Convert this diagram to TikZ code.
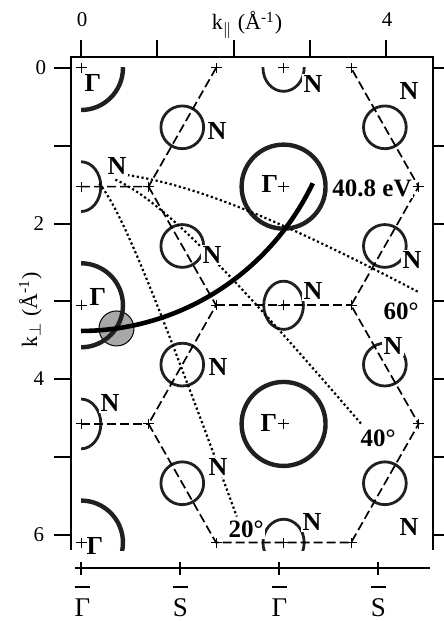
\documentclass[tikz,border=0pt]{standalone}
\usepackage{fontspec}
\setmainfont{Liberation Serif}
\definecolor{bzInk}{RGB}{0,0,0}
\definecolor{bzContour}{RGB}{32,32,32}
\definecolor{bzSpot}{RGB}{168,168,168}

\begin{document}
\begin{tikzpicture}[x=0.5pt,y=0.5pt,inner sep=0pt,outer sep=0pt,
  axisline/.style={line width=0.9pt,draw=bzInk},
  zoneedge/.style={line width=0.85pt,dash pattern=on 4.5pt off 2pt},
  angleline/.style={line width=1.1pt,dash pattern=on 1.1pt off 1.3pt},
  gammacut/.style={line width=2.2pt,draw=bzContour},
  ncut/.style={line width=1.4pt,draw=bzContour},
  crossmark/.style={line width=0.5pt},
  symlabel/.style={fill=white,inner sep=0.6pt,font=\bfseries\fontsize{13}{15}\selectfont},
  numlabel/.style={fill=white,inner sep=0.6pt,font=\bfseries\fontsize{12.5}{15}\selectfont},
  gammalabel/.style={font=\bfseries\fontsize{13}{15}\selectfont},
  ticklabel/.style={font=\fontsize{10.5}{12}\selectfont},
  axislabel/.style={font=\fontsize{11}{12}\selectfont},
  pointlabel/.style={font=\fontsize{13.5}{15}\selectfont}]
\useasboundingbox (0,0) rectangle (444,621);

% frame, top and side axes
\draw[axisline] (71,71) -- (71,564) -- (433,564) -- (433,71);
\foreach \xt in {81,157,234,310,386} \draw[axisline] (\xt,564) -- (\xt,581);
\foreach \yt in {553,475,397,320,242,164,86} {
  \draw[axisline] (54,\yt) -- (71,\yt);
  \draw[axisline] (433,\yt) -- (444,\yt);
}
\node[ticklabel,anchor=base] (top0) at (82,594) {0};
\node[ticklabel,anchor=base] (top4) at (387,594) {4};
\node[axislabel,anchor=base] (kpar) at (247,591) {k$_{\parallel}$ (Å\textsuperscript{-1})};
\node[ticklabel,anchor=east] (left0) at (46,553) {0};
\node[ticklabel,anchor=east] (left2) at (44,397) {2};
\node[ticklabel,anchor=east] (left4) at (44,242) {4};
\node[ticklabel,anchor=east] (left6) at (44,86) {6};
\node[axislabel,rotate=90,anchor=base] (kperp) at (37,311) {k$_{\perp}$ (Å\textsuperscript{-1})};

% bottom axis with surface points
\draw[axisline] (75,53) -- (430,53);
\foreach \xt in {81,180,279,378} \draw[axisline] (\xt,46) -- (\xt,59);
\node[pointlabel,anchor=base] (sg1) at (82.5,4) {Γ};
\node[pointlabel,anchor=base] (ss1) at (180.5,4) {S};
\node[pointlabel,anchor=base] (sg2) at (279.5,4) {Γ};
\node[pointlabel,anchor=base] (ss2) at (378.5,4) {S};
\foreach \lb in {sg1,ss1,sg2,ss2}
  \draw[line width=1pt] ([yshift=6pt]\lb.north west) -- ([yshift=6pt]\lb.north east);

% k-space, in inverse angstrom
\begin{scope}[shift={(81,553)},x=38.15pt,y=-38.9pt]
\coordinate (G1) at (0,0);
\coordinate (G2) at (0,3.05);
\coordinate (G3) at (0,6.1);
\coordinate (G4) at (2.655,1.525);
\coordinate (G5) at (2.655,4.575);
\coordinate (N3) at (2.655,0);
\coordinate (N4) at (2.655,3.05);
\coordinate (N5) at (2.655,6.1);
\coordinate (v1) at (0,1.525);
\coordinate (v2) at (0.885,1.525);
\coordinate (v3) at (1.77,0);
\coordinate (v4) at (1.77,3.05);
\coordinate (v5) at (0.885,4.575);
\coordinate (v6) at (0,4.575);
\coordinate (v7) at (1.77,6.1);
\coordinate (v8) at (3.54,6.1);
\coordinate (v9) at (4.425,4.575);
\coordinate (v10) at (3.54,3.05);
\coordinate (v11) at (4.425,1.525);
\coordinate (v12) at (3.54,0);

\node[circle,draw,fill=bzSpot,line width=0.5pt,minimum size=17.5pt] (spot) at (0.465,3.348) {};

\begin{scope}
\clip (0,0) rectangle (4.6,6.2);
\foreach \g in {G1,G2,G3,G4,G5}
  \draw[gammacut] (\g) circle[x radius=0.55,y radius=0.54];
\draw[ncut] (v1) ellipse[x radius=0.26,y radius=0.32];
\draw[ncut] (v6) ellipse[x radius=0.26,y radius=0.32];
\draw[ncut] (N3) ellipse[x radius=0.27,y radius=0.30];
\draw[ncut] (N4) ellipse[x radius=0.26,y radius=0.31];
\draw[ncut] (N5) ellipse[x radius=0.27,y radius=0.30];
\foreach \xm in {1.3275,3.9825}
  \foreach \ym in {0.7625,2.2875,3.8125,5.3375}
    \draw[ncut] (\xm,\ym) circle[x radius=0.28,y radius=0.275];
\end{scope}

% zone boundaries
\draw[zoneedge] (v1) -- (v2) -- (v3);
\draw[zoneedge] (v2) -- (v4) -- (v5) -- (v7) -- (v8) -- (v9) -- (v10) -- (v11) -- (v12);
\draw[zoneedge] (v4) -- (v10);
\draw[zoneedge] (v6) -- (v5);

% constant emission angle
\draw[angleline] plot[domain=0.7:5.1,samples=40,smooth,variable=\t] ({\t*sin(60)},{sqrt((\t*cos(60))^2+1.77)});
\draw[angleline] plot[domain=0.7:5.73,samples=40,smooth,variable=\t] ({\t*sin(40)},{sqrt((\t*cos(40))^2+1.77)});
\draw[angleline] plot[domain=0.7:5.97,samples=40,smooth,variable=\t] ({\t*sin(20)},{sqrt((\t*cos(20))^2+1.77)});

% constant photon energy
\draw[line width=2.3pt] plot[domain=26:90,samples=40,smooth] ({3.38*cos(\x)},{3.38*sin(\x)});

\foreach \p in {G1,G2,G3,G4,G5,N3,N4,N5,v1,v2,v3,v4,v5,v6,v7,v8,v9,v10,v11,v12}
  \draw[crossmark] (\p) ++(-2.75pt,0pt) -- ++(5.5pt,0pt) (\p) ++(0pt,-2.5pt) -- ++(0pt,5pt);
\end{scope}

% labels
\node[symlabel] (lN1) at (313,537) {N};
\node[symlabel] (lN2) at (409,530) {N};
\node[symlabel] (lN3) at (217,490) {N};
\node[symlabel] (lN4) at (117,455) {N};
\node[symlabel] (lN5) at (212,366) {N};
\node[symlabel] (lN6) at (412,361) {N};
\node[symlabel] (lN7) at (313,330) {N};
\node[symlabel] (lN8) at (393,275) {N};
\node[symlabel] (lN9) at (218,254) {N};
\node[symlabel] (lN10) at (110,218) {N};
\node[symlabel] (lN11) at (218,154) {N};
\node[symlabel] (lN12) at (312,99) {N};
\node[symlabel] (lN13) at (409,94) {N};
\node[numlabel] (lE) at (372,433) {40.8 eV};
\node[numlabel] (l60) at (401,310) {60°};
\node[numlabel] (l40) at (378,183) {40°};
\node[numlabel] (l20) at (246,92) {20°};
\node[gammalabel] (lG1) at (93,538) {Γ};
\node[gammalabel] (lG2) at (98,324) {Γ};
\node[gammalabel] (lG3) at (95,75) {Γ};
\node[gammalabel] (lG4) at (270,437) {Γ};
\node[gammalabel] (lG5) at (269,198) {Γ};
\end{tikzpicture}
\end{document}
